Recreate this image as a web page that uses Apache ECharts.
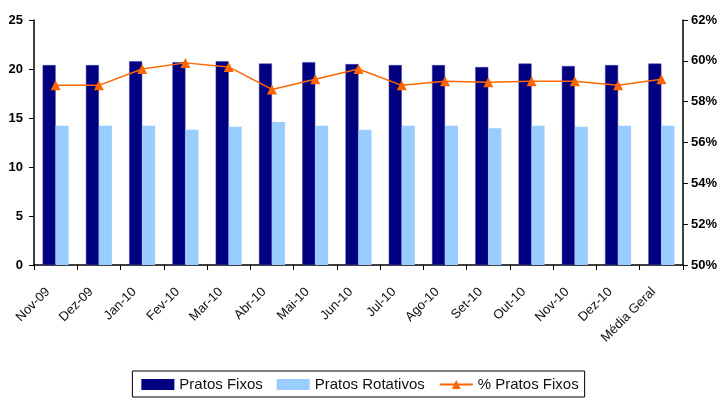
<!DOCTYPE html>
<html>
<head>
<meta charset="utf-8">
<style>
  html, body { margin: 0; padding: 0; background: #ffffff; }
  #chart { width: 720px; height: 400px; }
</style>
<script src="https://cdn.jsdelivr.net/npm/echarts@6/dist/echarts.min.js"></script>
</head>
<body>
<div id="chart"></div>
<script>
// Monthly dish counts (fixed vs rotating) and share of fixed dishes
const categories = ['Nov-09', 'Dez-09', 'Jan-10', 'Fev-10', 'Mar-10', 'Abr-10', 'Mai-10', 'Jun-10',
  'Jul-10', 'Ago-10', 'Set-10', 'Out-10', 'Nov-10', 'Dez-10', 'Média Geral'];
const pratosFixos = [20.4, 20.4, 20.8, 20.7, 20.8, 20.55, 20.7, 20.5, 20.4, 20.4, 20.2, 20.55, 20.3, 20.4, 20.55];
const pratosRotativos = [14.2, 14.2, 14.2, 13.8, 14.1, 14.6, 14.2, 13.8, 14.2, 14.2, 13.95, 14.2, 14.1, 14.2, 14.2];
const pctPratosFixos = [58.8, 58.8, 59.6, 59.9, 59.7, 58.6, 59.1, 59.6, 58.8, 59.0, 58.95, 59.0, 59.0, 58.8, 59.1];

const leftTicks = { min: 0, max: 25, interval: 5 };
const rightTicks = { min: 50, max: 62, interval: 2 };

const FONT = 'Liberation Sans, Arial, sans-serif';
const axisFont = { fontFamily: FONT, fontWeight: 'bold', fontSize: 13, color: '#000' };

const chart = echarts.init(document.getElementById('chart'), null, { renderer: 'canvas' });
chart.setOption({
  animation: false,
  backgroundColor: '#ffffff',
  grid: { left: 34, right: 35, top: 20, bottom: 135, containLabel: false },
  legend: {
    top: 371,
    left: 'center',
    itemWidth: 33,
    itemHeight: 11,
    itemGap: 14,
    padding: [6, 6, 5, 9],
    borderColor: '#000',
    borderWidth: 1,
    borderRadius: 0,
    itemStyle: { borderWidth: 0 },
    textStyle: { fontFamily: FONT, fontSize: 15, color: '#111' },
    data: [
      { name: 'Pratos Fixos', icon: 'rect' },
      { name: 'Pratos Rotativos', icon: 'rect' },
      { name: '% Pratos Fixos' }
    ]
  },
  xAxis: {
    type: 'category',
    data: categories,
    boundaryGap: true,
    axisLine: { lineStyle: { color: '#000', width: 1.5 } },
    axisTick: { show: true, inside: false, length: 5, lineStyle: { color: '#000' } },
    axisLabel: {
      interval: 0,
      rotate: 45,
      margin: 17,
      padding: [0, 11, 0, 0],
      fontFamily: FONT,
      fontSize: 13,
      color: '#111'
    },
    splitLine: { show: false }
  },
  yAxis: [
    {
      type: 'value',
      min: leftTicks.min, max: leftTicks.max, interval: leftTicks.interval,
      position: 'left',
      axisLine: { show: true, lineStyle: { color: '#000', width: 1.5 } },
      axisTick: { show: true, length: 5, lineStyle: { color: '#000' } },
      axisLabel: Object.assign({ margin: 11 }, axisFont),
      splitLine: { show: false }
    },
    {
      type: 'value',
      min: rightTicks.min, max: rightTicks.max, interval: rightTicks.interval,
      position: 'right',
      axisLine: { show: true, lineStyle: { color: '#000', width: 1.5 } },
      axisTick: { show: true, length: 5, lineStyle: { color: '#000' } },
      axisLabel: Object.assign({ margin: 8, formatter: '{value}%' }, axisFont),
      splitLine: { show: false }
    }
  ],
  series: [
    {
      name: 'Pratos Fixos',
      type: 'bar',
      yAxisIndex: 0,
      data: pratosFixos,
      barWidth: 13,
      barGap: '0%',
      itemStyle: { color: '#000080', borderColor: '#3a3aa8', borderWidth: 0.5 }
    },
    {
      name: 'Pratos Rotativos',
      type: 'bar',
      yAxisIndex: 0,
      data: pratosRotativos,
      barWidth: 13,
      barGap: '0%',
      itemStyle: { color: '#99CCFF' }
    },
    {
      name: '% Pratos Fixos',
      type: 'line',
      yAxisIndex: 1,
      data: pctPratosFixos,
      symbol: 'triangle',
      symbolSize: 10,
      showAllSymbol: true,
      lineStyle: { color: '#FF6600', width: 1.5 },
      itemStyle: { color: '#FF6600' }
    }
  ]
});
</script>
</body>
</html>
